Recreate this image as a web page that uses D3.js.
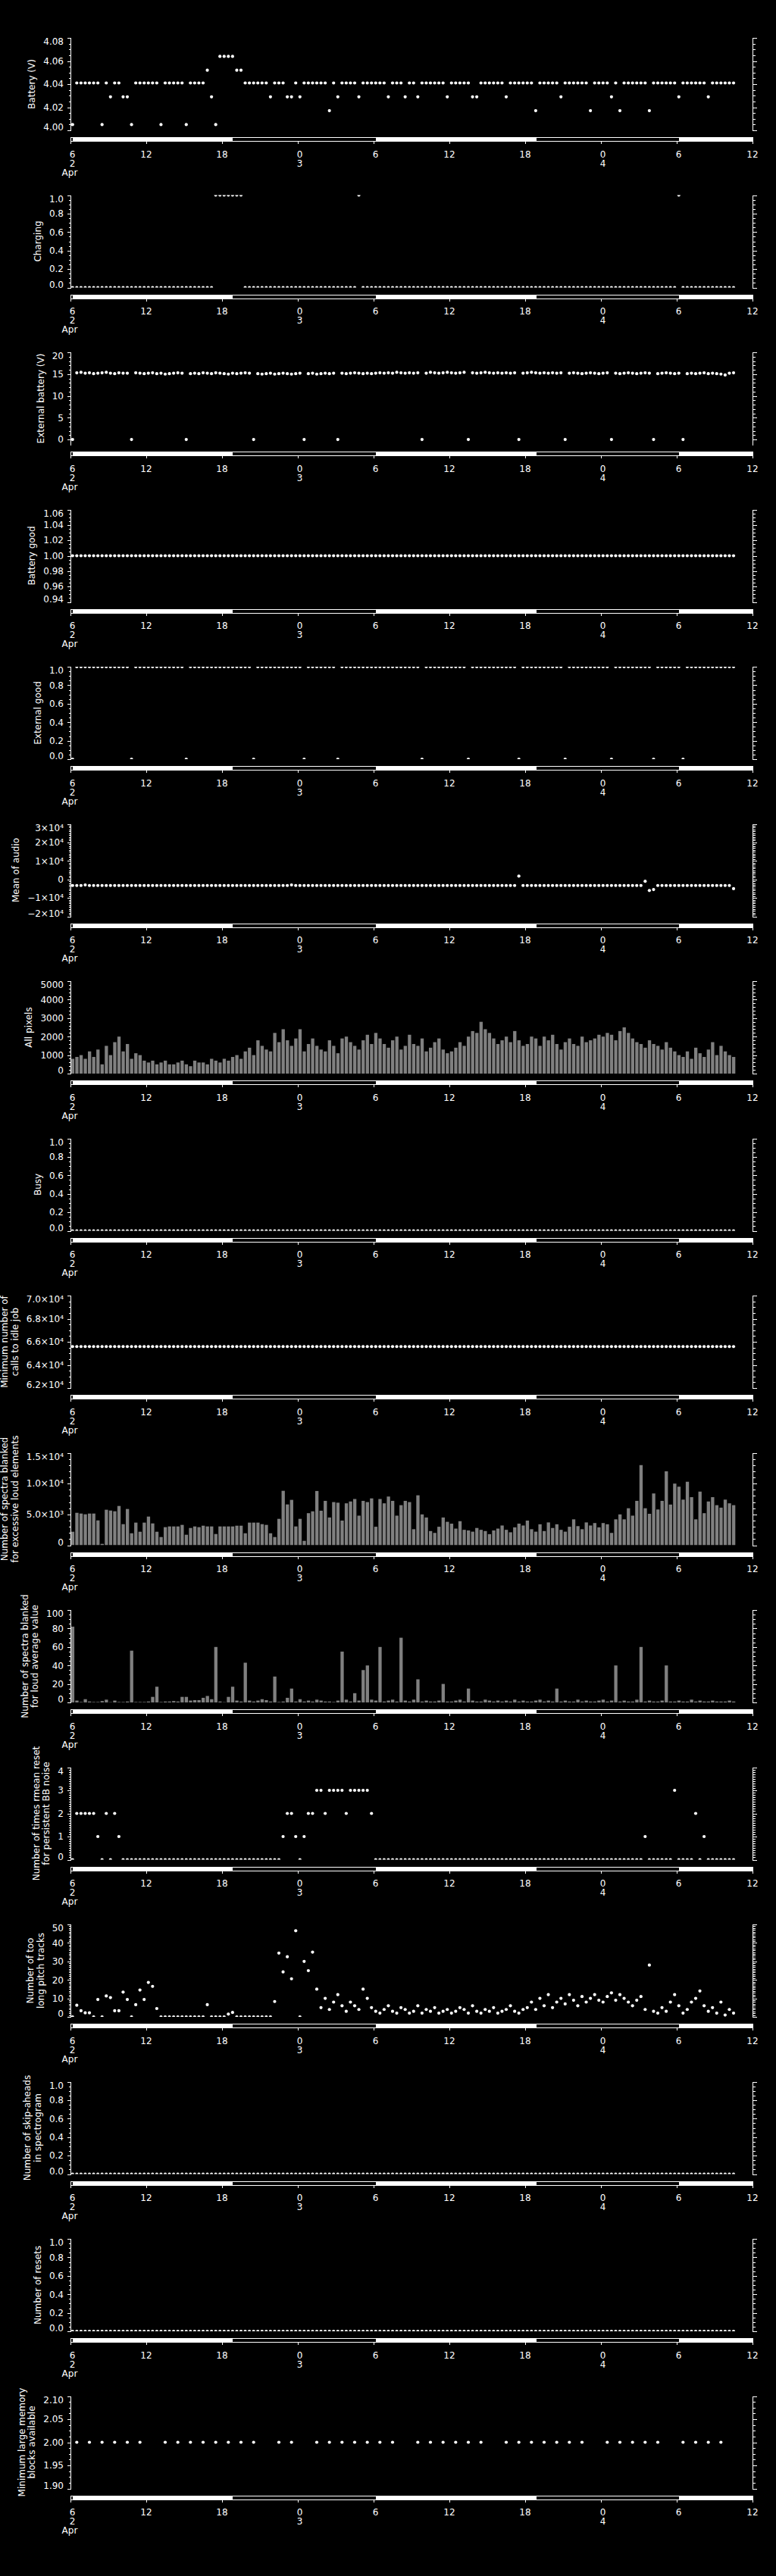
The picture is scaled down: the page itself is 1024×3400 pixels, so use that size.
<!DOCTYPE html>
<html>
<head>
<meta charset="utf-8">
<script src="https://cdn.jsdelivr.net/npm/d3@7/dist/d3.min.js"></script>
<style>
  html, body { margin: 0; background: #000; }
  text { font-family: "DejaVu Sans", sans-serif; font-size: 12px; fill: #fff; }
</style>
</head>
<body>
<svg id="chart" width="1024" height="3400"></svg>
<script>
/* ── Records: one every 20 minutes from 06:10 on 2 Apr ─────────────── */
const FIRST_RECORD = Date.UTC(2015, 3, 2, 6, 10);
const RECORD_MS    = 20 * 60 * 1000;
const AXIS_START   = Date.UTC(2015, 3, 2, 6, 0);
const AXIS_END     = Date.UTC(2015, 3, 4, 12, 0);

// daylight intervals shown in the bar under each panel
const daylight = [
  ['2015-04-02T06:11Z', '2015-04-02T18:51Z'],
  ['2015-04-03T06:11Z', '2015-04-03T18:53Z'],
  ['2015-04-04T06:11Z', '2015-04-04T12:00Z'],
];

/* ── Series (one row = 6 hours = 18 records) ───────────────────────── */
const battery = [
  4.005,4.041,4.041,4.041,4.041,4.041,4.041,4.005,4.041,4.029,4.041,4.041,4.029,4.029,4.005,4.041,4.041,4.041,
  4.041,4.041,4.041,4.005,4.041,4.041,4.041,4.041,4.041,4.005,4.041,4.041,4.041,4.041,4.052,4.029,4.005,4.064,
  4.064,4.064,4.064,4.052,4.052,4.041,4.041,4.041,4.041,4.041,4.041,4.029,4.041,4.041,4.041,4.029,4.029,4.041,
  4.029,4.041,4.041,4.041,4.041,4.041,4.041,4.017,4.041,4.029,4.041,4.041,4.041,4.041,4.029,4.041,4.041,4.041,
  4.041,4.041,4.041,4.029,4.041,4.041,4.041,4.029,4.041,4.041,4.029,4.041,4.041,4.041,4.041,4.041,4.041,4.029,
  4.041,4.041,4.041,4.041,4.041,4.029,4.029,4.041,4.041,4.041,4.041,4.041,4.041,4.029,4.041,4.041,4.041,4.041,
  4.041,4.041,4.017,4.041,4.041,4.041,4.041,4.041,4.029,4.041,4.041,4.041,4.041,4.041,4.041,4.017,4.041,4.041,
  4.041,4.041,4.029,4.041,4.017,4.041,4.041,4.041,4.041,4.041,4.041,4.017,4.041,4.041,4.041,4.041,4.041,4.041,
  4.029,4.041,4.041,4.041,4.041,4.041,4.041,4.029,4.041,4.041,4.041,4.041,4.041,4.041
];

const charging = [
  0,0,0,0,0,0,0,0,0,0,0,0,0,0,0,0,0,0,
  0,0,0,0,0,0,0,0,0,0,0,0,0,0,0,0,1,1,
  1,1,1,1,1,0,0,0,0,0,0,0,0,0,0,0,0,0,
  0,0,0,0,0,0,0,0,0,0,0,0,0,0,1,0,0,0,
  0,0,0,0,0,0,0,0,0,0,0,0,0,0,0,0,0,0,
  0,0,0,0,0,0,0,0,0,0,0,0,0,0,0,0,0,0,
  0,0,0,0,0,0,0,0,0,0,0,0,0,0,0,0,0,0,
  0,0,0,0,0,0,0,0,0,0,0,0,0,0,0,0,0,0,
  1,0,0,0,0,0,0,0,0,0,0,0,0,0
];

const externalBattery = [
  0,15.3,15.4,15.2,15.3,15.1,15.2,15.3,15.4,15.2,15.1,15.3,15.2,15.2,0,15.3,15.2,15.1,
  15.2,15.3,15.1,15.2,15.0,15.1,15.2,15.3,15.2,0,15.1,15.2,15.1,15.3,15.2,15.1,15.3,15.2,
  15.1,15.0,15.2,15.1,15.2,15.3,15.2,0,15.1,15.0,15.1,15.2,15.0,15.1,15.2,15.1,15.0,15.1,
  15.2,0,15.1,15.2,15.0,15.1,15.2,15.1,15.2,0,15.2,15.1,15.2,15.3,15.2,15.1,15.2,15.1,
  15.2,15.3,15.2,15.3,15.2,15.4,15.3,15.2,15.3,15.2,15.3,0,15.2,15.4,15.3,15.2,15.3,15.4,
  15.3,15.2,15.3,15.4,0,15.3,15.2,15.3,15.4,15.3,15.2,15.3,15.2,15.3,15.2,15.3,0,15.2,
  15.3,15.4,15.3,15.2,15.3,15.2,15.3,15.2,15.3,0,15.2,15.3,15.2,15.1,15.2,15.3,15.2,15.1,
  15.2,15.3,0,15.2,15.1,15.2,15.3,15.2,15.1,15.2,15.3,15.2,0,15.1,15.2,15.3,15.2,15.1,
  15.2,0,15.1,15.2,15.1,15.2,15.3,15.1,15.2,15.1,15.0,14.8,15.2,15.3
];

const batteryGood = [
  1,1,1,1,1,1,1,1,1,1,1,1,1,1,1,1,1,1,
  1,1,1,1,1,1,1,1,1,1,1,1,1,1,1,1,1,1,
  1,1,1,1,1,1,1,1,1,1,1,1,1,1,1,1,1,1,
  1,1,1,1,1,1,1,1,1,1,1,1,1,1,1,1,1,1,
  1,1,1,1,1,1,1,1,1,1,1,1,1,1,1,1,1,1,
  1,1,1,1,1,1,1,1,1,1,1,1,1,1,1,1,1,1,
  1,1,1,1,1,1,1,1,1,1,1,1,1,1,1,1,1,1,
  1,1,1,1,1,1,1,1,1,1,1,1,1,1,1,1,1,1,
  1,1,1,1,1,1,1,1,1,1,1,1,1,1
];

const externalGood = [
  0,1,1,1,1,1,1,1,1,1,1,1,1,1,0,1,1,1,
  1,1,1,1,1,1,1,1,1,0,1,1,1,1,1,1,1,1,
  1,1,1,1,1,1,1,0,1,1,1,1,1,1,1,1,1,1,
  1,0,1,1,1,1,1,1,1,0,1,1,1,1,1,1,1,1,
  1,1,1,1,1,1,1,1,1,1,1,0,1,1,1,1,1,1,
  1,1,1,1,0,1,1,1,1,1,1,1,1,1,1,1,0,1,
  1,1,1,1,1,1,1,1,1,0,1,1,1,1,1,1,1,1,
  1,1,0,1,1,1,1,1,1,1,1,1,0,1,1,1,1,1,
  1,0,1,1,1,1,1,1,1,1,1,1,1,1
];

const meanAudio = [
  -3300,-3300,-3300,-3000,-3300,-3300,-3300,-3300,-3300,-3300,-3300,-3300,-3300,-3300,-3300,-3300,-3300,-3300,
  -3300,-3300,-3300,-3300,-3300,-3300,-3300,-3300,-3300,-3300,-3300,-3300,-3300,-3300,-3300,-3300,-3300,-3300,
  -3300,-3300,-3300,-3300,-3300,-3300,-3300,-3300,-3300,-3300,-3300,-3300,-3300,-3300,-3300,-3300,-3000,-3300,
  -3300,-3300,-3300,-3300,-3300,-3300,-3300,-3300,-3300,-3300,-3300,-3300,-3300,-3300,-3300,-3300,-3300,-3300,
  -3300,-3300,-3300,-3300,-3300,-3300,-3300,-3300,-3300,-3300,-3300,-3300,-3300,-3300,-3300,-3300,-3300,-3300,
  -3300,-3300,-3300,-3300,-3300,-3300,-3300,-3300,-3300,-3300,-3300,-3300,-3300,-3300,-3300,-3300,1800,-3300,
  -3300,-3300,-3300,-3300,-3300,-3300,-3300,-3300,-3300,-3300,-3300,-3300,-3300,-3300,-3300,-3300,-3300,-3300,
  -3300,-3300,-3300,-3300,-3300,-3300,-3300,-3300,-3300,-3300,-1000,-6000,-5500,-3300,-3300,-3300,-3300,-3300,
  -3300,-3300,-3300,-3300,-3300,-3300,-3300,-3300,-3300,-3300,-3300,-3300,-3300,-5000
];

const allPixels = [
  800,900,1000,800,1200,900,1300,500,1500,1000,1700,2000,1200,1600,800,1100,1000,700,
  600,700,500,600,700,500,500,600,700,500,400,700,600,600,500,800,700,600,
  800,700,900,1000,800,1200,1400,1000,1800,1500,1300,1200,2200,1700,2400,1800,1500,1900,
  2400,1200,1600,1900,1500,1300,1200,1800,1500,1100,1900,2000,1700,1500,1300,1800,2100,1600,
  2200,1900,1600,1400,1800,2000,1300,1500,2100,1600,1500,1900,1200,1400,1700,1900,1300,1100,
  1200,1400,1700,1500,2000,2300,2200,2800,2400,2200,1900,1600,1800,2000,1700,2300,1800,1500,
  1600,2000,1900,1500,2000,1800,2100,1600,1300,1700,1900,1600,1500,2000,1700,1800,1900,2100,
  2000,2200,2100,1800,2300,2500,2200,1900,1700,1600,1400,1800,1600,1500,1300,1700,1400,1200,
  1000,900,1200,800,1400,1100,900,1300,1700,1000,1500,1200,1000,900
];

const busy = [
  0,0,0,0,0,0,0,0,0,0,0,0,0,0,0,0,0,0,
  0,0,0,0,0,0,0,0,0,0,0,0,0,0,0,0,0,0,
  0,0,0,0,0,0,0,0,0,0,0,0,0,0,0,0,0,0,
  0,0,0,0,0,0,0,0,0,0,0,0,0,0,0,0,0,0,
  0,0,0,0,0,0,0,0,0,0,0,0,0,0,0,0,0,0,
  0,0,0,0,0,0,0,0,0,0,0,0,0,0,0,0,0,0,
  0,0,0,0,0,0,0,0,0,0,0,0,0,0,0,0,0,0,
  0,0,0,0,0,0,0,0,0,0,0,0,0,0,0,0,0,0,
  0,0,0,0,0,0,0,0,0,0,0,0,0,0
];

const idleCalls = [
  65590,65590,65590,65590,65590,65590,65590,65590,65590,65590,65590,65590,65590,65590,65590,65590,65590,65590,
  65590,65590,65590,65590,65590,65590,65590,65590,65590,65590,65590,65590,65590,65590,65590,65590,65590,65590,
  65590,65590,65590,65590,65590,65590,65590,65590,65590,65590,65590,65590,65590,65590,65590,65590,65590,65590,
  65590,65590,65590,65590,65590,65590,65590,65590,65590,65590,65590,65590,65590,65590,65590,65590,65590,65590,
  65590,65590,65590,65590,65590,65590,65590,65590,65590,65590,65590,65590,65590,65590,65590,65590,65590,65590,
  65590,65590,65590,65590,65590,65590,65590,65590,65590,65590,65590,65590,65590,65590,65590,65590,65590,65590,
  65590,65590,65590,65590,65590,65590,65590,65590,65590,65590,65590,65590,65590,65590,65590,65590,65590,65590,
  65590,65590,65590,65590,65590,65590,65590,65590,65590,65590,65590,65590,65590,65590,65590,65590,65590,65590,
  65590,65590,65590,65590,65590,65590,65590,65590,65590,65590,65590,65590,65590,65590
];

const blankedLoudElements = [
  2190,5260,5140,5020,5140,5140,4030,220,5760,5630,5510,6370,3420,5880,1940,3670,2190,3670,
  4650,3540,2190,1330,2930,3050,3050,3050,3300,1700,2800,3050,2930,3170,3050,3050,1820,3050,
  3050,3050,3050,3170,3170,1940,3670,3670,3670,3420,3300,1940,1330,4280,8830,6620,7360,3050,
  4280,710,5200,5500,8800,5600,7200,4500,7000,6900,4000,6800,7100,7500,4800,7200,7000,7600,
  3000,7500,6800,7900,7200,4800,6500,7200,7000,2600,8100,5000,4500,2300,2000,3000,4500,3800,
  3500,2700,3900,2500,2400,2200,2800,2500,2300,1800,2400,2700,3200,2500,2100,2900,3500,3200,
  4000,2600,2200,3400,2300,3700,2800,3400,2500,2200,3000,4200,3100,2600,3700,3200,3600,2900,
  3600,3400,2000,4200,5000,4200,6000,4800,7200,13000,6000,5100,8400,5800,7200,12000,6600,10000,
  9500,7400,10300,7800,4200,8700,5200,7100,7800,6500,6100,7400,6800,6500
];

const blankedLoudAverage = [
  82,2,0.5,3.5,1,0.5,0.5,1.5,3,0.3,2,0.5,0.5,1,56,0.5,0.5,0.5,
  1,6,17,0.5,1,1,1.5,1,6,6,2,2.5,2.5,5,7,3.5,60,1,
  0.3,6,17,2,1,43,2,1,2,3.5,2.5,1,28,0.5,1,5,15,1,
  3.5,1,2,1,3,2,1,1,0.5,2,55,3,1,10,2,35,40,3,
  2,60,1,2,3,1,70,2,1,3,25,1,2,1,1,2,20,1,
  1,2,3,1,15,2,1,1,3,2,1,2,1,2,1,3,1,2,
  1,1,2,3,1,2,1,15,1,2,1,1,3,1,2,1,1,2,
  3,1,2,40,1,2,1,1,3,60,1,2,1,1,2,40,1,1,
  2,1,1,3,1,2,1,1,2,1,1,1,2,1
];

const rmeanResets = [
  0,2,2,2,2,2,1,0,2,0,2,1,0,0,0,0,0,0,
  0,0,0,0,0,0,0,0,0,0,0,0,0,0,0,0,0,0,
  0,0,0,0,0,0,0,0,0,0,0,0,0,0,1,2,2,1,
  0,1,2,2,3,3,2,3,3,3,3,2,3,3,3,3,3,2,
  0,0,0,0,0,0,0,0,0,0,0,0,0,0,0,0,0,0,
  0,0,0,0,0,0,0,0,0,0,0,0,0,0,0,0,0,0,
  0,0,0,0,0,0,0,0,0,0,0,0,0,0,0,0,0,0,
  0,0,0,0,0,0,0,0,0,0,1,0,0,0,0,0,0,3,
  0,0,0,0,2,0,1,0,0,0,0,0,0,0
];

const longPitchTracks = [
  0,6.3,3.3,2.2,2.2,0,9.4,0,11.3,10.4,3.3,3.3,13.4,9.4,0,6.6,14.5,9.4,
  18.6,16.5,4.5,0,0,0,0,0,0,0,0,0,0,0,6.6,0,0,0,
  0,1.5,2.4,0,0,0,0,0,0,0,0,0,8.3,34.5,24.3,32.5,20.6,46.6,
  0,30,25,35,15,5,10,4,8,12,6,3,8,6,4,15,10,5,
  3,2,4,6,3,2,5,4,2,3,6,2,4,3,5,2,3,4,
  2,3,5,4,2,6,3,2,4,3,5,2,3,4,6,3,2,4,
  5,8,4,10,6,12,5,8,10,7,12,9,6,11,8,10,12,9,
  8,11,13,9,12,10,8,6,9,11,4,28,3,2,5,3,8,12,
  6,2,4,8,10,14,6,3,5,2,8,1,4,2
];

const skipAheads = [
  0,0,0,0,0,0,0,0,0,0,0,0,0,0,0,0,0,0,
  0,0,0,0,0,0,0,0,0,0,0,0,0,0,0,0,0,0,
  0,0,0,0,0,0,0,0,0,0,0,0,0,0,0,0,0,0,
  0,0,0,0,0,0,0,0,0,0,0,0,0,0,0,0,0,0,
  0,0,0,0,0,0,0,0,0,0,0,0,0,0,0,0,0,0,
  0,0,0,0,0,0,0,0,0,0,0,0,0,0,0,0,0,0,
  0,0,0,0,0,0,0,0,0,0,0,0,0,0,0,0,0,0,
  0,0,0,0,0,0,0,0,0,0,0,0,0,0,0,0,0,0,
  0,0,0,0,0,0,0,0,0,0,0,0,0,0
];

const resets = [
  0,0,0,0,0,0,0,0,0,0,0,0,0,0,0,0,0,0,
  0,0,0,0,0,0,0,0,0,0,0,0,0,0,0,0,0,0,
  0,0,0,0,0,0,0,0,0,0,0,0,0,0,0,0,0,0,
  0,0,0,0,0,0,0,0,0,0,0,0,0,0,0,0,0,0,
  0,0,0,0,0,0,0,0,0,0,0,0,0,0,0,0,0,0,
  0,0,0,0,0,0,0,0,0,0,0,0,0,0,0,0,0,0,
  0,0,0,0,0,0,0,0,0,0,0,0,0,0,0,0,0,0,
  0,0,0,0,0,0,0,0,0,0,0,0,0,0,0,0,0,0,
  0,0,0,0,0,0,0,0,0,0,0,0,0,0
];

const n = null;
const memoryBlocks = [
  n,2,n,n,2,n,n,2,n,n,2,n,n,2,n,n,2,n,
  n,n,n,n,2,n,n,2,n,n,2,n,n,2,n,n,2,n,
  n,2,n,n,2,n,n,2,n,n,n,n,n,2,n,n,2,n,
  n,n,n,n,2,n,n,2,n,n,2,n,n,2,n,n,2,n,
  n,2,n,n,2,n,n,n,n,n,2,n,n,2,n,n,2,n,
  n,2,n,n,2,n,n,2,n,n,n,n,n,2,n,n,2,n,
  n,2,n,n,2,n,n,2,n,n,2,n,n,2,n,n,n,n,
  n,2,n,n,2,n,n,2,n,n,2,n,n,2,n,n,n,n,
  n,2,n,n,2,n,n,2,n,n,2,n,n,n
];

/* ── Panel definitions ─────────────────────────────────────────────── */
const sci = (m, e, digits) => {
  const sup = { 3: '³', 4: '⁴' };
  return (m < 0 ? '−' : '') + Math.abs(m).toFixed(digits) + '×10' + sup[e];
};
const fix = k => d => d.toFixed(k);

const panels = [
  { title: ['Battery (V)'], values: battery, domain: [4.00, 4.08], major: 0.02, minor: 0.005, fmt: fix(2) },
  { title: ['Charging'], values: charging, domain: [0, 1], major: 0.2, minor: 0.05, fmt: fix(1) },
  { title: ['External battery (V)'], values: externalBattery, domain: [-1.2, 20], major: 5, minor: 1, fmt: fix(0), tickStart: 0 },
  { title: ['Battery good'], values: batteryGood, domain: [0.94, 1.06], major: 0.02, minor: 0.005, fmt: fix(2) },
  { title: ['External good'], values: externalGood, domain: [0, 1], major: 0.2, minor: 0.05, fmt: fix(1) },
  { title: ['Mean of audio'], values: meanAudio, domain: [-20000, 30000], major: 10000, minor: 1000,
    fmt: d => d === 0 ? '0' : sci(Math.round(d / 1e4), 4, 0) },
  { title: ['All pixels'], values: allPixels, domain: [0, 5000], major: 1000, minor: 200, fmt: fix(0), bars: true },
  { title: ['Busy'], values: busy, domain: [0, 1], major: 0.2, minor: 0.05, fmt: fix(1) },
  { title: ['Minimum number of', 'calls to idle job'], values: idleCalls, domain: [62000, 70000], major: 2000, minor: 500,
    fmt: d => sci(d / 1e4, 4, 1) },
  { title: ['Number of spectra blanked', 'for excessive loud elements'], values: blankedLoudElements,
    domain: [0, 15000], major: 5000, minor: 1000, bars: true,
    fmt: d => d === 0 ? '0' : (d < 10000 ? sci(d / 1e3, 3, 1) : sci(d / 1e4, 4, 1)) },
  { title: ['Number of spectra blanked', 'for loud average value'], values: blankedLoudAverage,
    domain: [0, 100], major: 20, minor: 5, fmt: fix(0), bars: true },
  { title: ['Number of times rmean reset', 'for persistent BB noise'], values: rmeanResets,
    domain: [0, 4], major: 1, minor: 0.1, fmt: fix(0) },
  { title: ['Number of too', 'long pitch tracks'], values: longPitchTracks, domain: [0, 50], major: 10, minor: 1, fmt: fix(0) },
  { title: ['Number of skip-aheads', 'in spectrogram'], values: skipAheads, domain: [0, 1], major: 0.2, minor: 0.05, fmt: fix(1) },
  { title: ['Number of resets'], values: resets, domain: [0, 1], major: 0.2, minor: 0.05, fmt: fix(1) },
  { title: ['Minimum large memory', 'blocks available'], values: memoryBlocks, domain: [1.90, 2.10], major: 0.05, minor: 0.0125, fmt: fix(2) },
];

/* ── Layout ────────────────────────────────────────────────────────── */
const svg = d3.select('#chart');
const X0 = 93, X1 = 993;
const PANEL_STEP = 207.5, PANEL_H = 122;
const x = d3.scaleUtc().domain([new Date(AXIS_START), new Date(AXIS_END)]).range([X0, X1]);
const recordTime = i => new Date(FIRST_RECORD + i * RECORD_MS);

function tickValues(d0, d1, step, start) {
  const s = start ?? d0;
  const out = [];
  for (let i = 0; ; i++) {
    const v = +(s + i * step).toFixed(6);
    if (v > d1 + step * 1e-6) break;
    if (v >= d0 - step * 1e-6) out.push(v);
  }
  return out;
}

panels.forEach((p, k) => drawPanel(p, k, 50 + k * PANEL_STEP));

function drawPanel(p, k, top) {
  const bottom = top + PANEL_H;
  const y = d3.scaleLinear().domain(p.domain).range([bottom, top]);
  const g = svg.append('g');

  // clip the marks to the plot box
  svg.append('clipPath').attr('id', 'clip' + k)
    .append('rect').attr('x', X0).attr('y', top).attr('width', X1 - X0).attr('height', PANEL_H);

  const pts = p.values.map((v, i) => ({ t: recordTime(i), v })).filter(d => d.v !== null);
  const marks = g.append('g').attr('clip-path', `url(#clip${k})`);

  if (p.bars) {
    marks.selectAll('rect').data(pts).join('rect')
      .attr('x', d => x(d.t) - 2)
      .attr('width', 4.3)
      .attr('y', d => y(d.v))
      .attr('height', d => Math.max(0.6, bottom - y(d.v)))
      .attr('fill', '#808080');
  } else {
    marks.selectAll('circle').data(pts).join('circle')
      .attr('cx', d => x(d.t))
      .attr('cy', d => y(d.v))
      .attr('r', 2.1)
      .attr('fill', '#fff');
  }

  // y axes (left with labels, right bare)
  const majors = tickValues(p.domain[0], p.domain[1], p.major, p.tickStart);
  const minors = tickValues(p.domain[0], p.domain[1], p.minor, p.tickStart);
  const ax = g.append('g').attr('stroke', '#fff').attr('stroke-width', 1).attr('shape-rendering', 'crispEdges');
  [X0, X1].forEach((xa, side) => {
    ax.append('line').attr('x1', xa + 0.5).attr('x2', xa + 0.5).attr('y1', top).attr('y2', bottom + 1);
    const dir = side === 0 ? -1 : 1;
    minors.forEach(v => ax.append('line')
      .attr('x1', xa + 0.5).attr('x2', xa + 0.5 + dir * 3)
      .attr('y1', Math.round(y(v)) + 0.5).attr('y2', Math.round(y(v)) + 0.5));
    majors.forEach(v => ax.append('line')
      .attr('x1', xa + 0.5).attr('x2', xa + 0.5 + dir * 5)
      .attr('y1', Math.round(y(v)) + 0.5).attr('y2', Math.round(y(v)) + 0.5));
  });

  const labels = g.append('g').selectAll('text').data(majors).join('text')
    .attr('x', X0 - 9)
    .attr('y', v => Math.max(top + 5, Math.min(bottom - 4, y(v))))
    .attr('dy', '0.36em')
    .attr('text-anchor', 'end')
    .text(p.fmt);

  let labelLeft = X0 - 9;
  labels.each(function () { labelLeft = Math.min(labelLeft, this.getBBox().x); });

  // rotated title, last line nearest the labels
  const cy = (top + bottom) / 2;
  const nl = p.title.length;
  p.title.forEach((line, j) => {
    const bx = labelLeft - 11 - (nl - 1 - j) * 13.5;
    g.append('text')
      .attr('transform', `translate(${bx},${cy}) rotate(-90)`)
      .attr('text-anchor', 'middle')
      .text(line);
  });

  // time bar with daylight fill
  const barTop = top + 131, barH = 5;
  const tb = g.append('g').attr('shape-rendering', 'crispEdges');
  tb.append('rect').attr('x', X0 + 0.5).attr('y', barTop + 0.5).attr('width', X1 - X0).attr('height', barH)
    .attr('fill', '#000').attr('stroke', '#fff');
  daylight.forEach(([a, b]) => {
    const xa = x(new Date(a)), xb = x(new Date(b));
    tb.append('rect').attr('x', xa).attr('y', barTop).attr('width', xb - xa).attr('height', barH + 1).attr('fill', '#fff');
  });

  const ticks = x.ticks(d3.utcHour.every(6));
  ticks.forEach(t => tb.append('line')
    .attr('x1', Math.round(x(t)) + 0.5).attr('x2', Math.round(x(t)) + 0.5)
    .attr('y1', barTop + barH).attr('y2', barTop + barH + 4)
    .attr('stroke', '#fff'));

  const hourFmt = d3.utcFormat('%-H'), dayFmt = d3.utcFormat('%-d');
  ticks.forEach((t, i) => {
    const h = hourFmt(t);
    const tx = x(t) + (h.length === 1 ? 2.5 : 0);
    g.append('text').attr('x', tx).attr('y', top + 157.5).attr('text-anchor', 'middle').text(h);
    if (i === 0 || t.getUTCHours() === 0) {
      g.append('text').attr('x', x(t) + 2.5).attr('y', top + 169.5).attr('text-anchor', 'middle').text(dayFmt(t));
    }
    if (i === 0) {
      g.append('text').attr('x', x(t) - 1).attr('y', top + 181.5).attr('text-anchor', 'middle').text('Apr');
    }
  });
}
</script>
</body>
</html>
